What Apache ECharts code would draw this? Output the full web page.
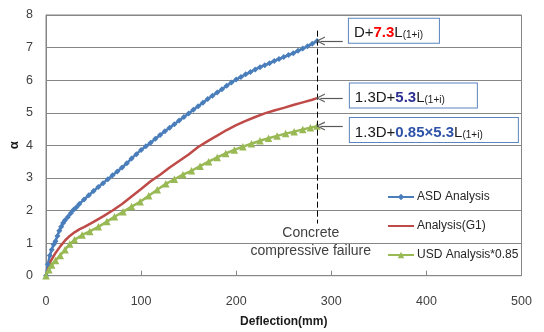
<!DOCTYPE html>
<html><head><meta charset="utf-8">
<script src="https://cdn.jsdelivr.net/npm/echarts@6/dist/echarts.min.js"></script>
<style>html,body{margin:0;padding:0;background:#fff}#c{width:544px;height:332px}</style>
</head><body><div id="c"></div>
<script>
// ---- data ----
const xTickValues = [0, 100, 200, 300, 400, 500];
const yTickValues = [0, 1, 2, 3, 4, 5, 6, 7, 8];

const asdX = [0,2,4,6,8,10,12,14,16,18,20,23,26,29,32,35,40,45,50,55,60,65,70,75,80,85,90,95,100,105,110,115,120,125,130,135,140,145,150,155,160,165,170,175,180,185,190,195,200,205,210,215,220,225,230,235,240,245,250,255,260,265,270,275,280,285];
const asdY = [0,0.35,0.62,0.8,0.96,1.06,1.22,1.38,1.5,1.62,1.7,1.8,1.92,2.02,2.1,2.2,2.34,2.47,2.6,2.72,2.84,2.96,3.08,3.2,3.32,3.45,3.6,3.73,3.86,3.97,4.08,4.2,4.32,4.43,4.54,4.65,4.76,4.87,4.98,5.09,5.2,5.31,5.42,5.52,5.62,5.72,5.83,5.93,6.02,6.1,6.18,6.25,6.33,6.4,6.46,6.52,6.59,6.65,6.71,6.77,6.83,6.9,6.97,7.04,7.12,7.2];

const g1X = [0,5,10,15,20,25,30,35,40,50,60,70,80,90,100,110,120,130,140,150,160,170,180,190,200,210,220,230,240,250,260,270,280,285];
const g1Y = [0,0.45,0.7,0.9,1.08,1.22,1.33,1.42,1.49,1.65,1.82,2.0,2.2,2.43,2.66,2.9,3.1,3.32,3.52,3.72,3.95,4.13,4.3,4.47,4.62,4.75,4.87,4.98,5.07,5.15,5.24,5.32,5.4,5.45];

const usdX = [0,3,6,10,15,20,25,30,38,46,55,64,72,81,90,99,108,117,126,135,144,153,162,171,180,189,198,207,216,225,234,243,252,261,270,278,285];
const usdY = [0,0.18,0.33,0.47,0.62,0.8,0.97,1.1,1.25,1.36,1.5,1.66,1.81,1.96,2.12,2.27,2.45,2.64,2.82,2.96,3.1,3.22,3.36,3.5,3.63,3.75,3.86,3.96,4.05,4.14,4.22,4.29,4.36,4.42,4.49,4.54,4.59];

const seriesNames = ['ASD Analysis', 'Analysis(G1)', 'USD Analysis*0.85'];
const failureX = 285;          // concrete compressive failure deflection
const failureSpan = [1.6, 7.52];
const endValues = [7.2, 5.45, 4.59];

const zip = (xs, ys) => xs.map((x, i) => [x, ys[i]]);
const FONT = 'Liberation Sans';
const chevron = 'path://M0,10 L5,0 L10,10 L8.6,10 L5,2.6 L1.4,10 Z';

function arrow(y) {
  return [
    {coord: [312, y], symbol: 'none'},
    {coord: [288.5, y], symbol: chevron, symbolSize: [9, 9]}
  ];
}
const boxLabel = (fmt, w) => ({
  show: true, position: 'right', distance: 0, formatter: fmt,
  width: w, padding: [3, 0, 2, 5], borderColor: '#5b84c0', borderWidth: 1,
  backgroundColor: '#fff', fontFamily: FONT,
  rich: {
    n: {fontSize: 15, color: '#1a1a1a', fontFamily: FONT, lineHeight: 19, verticalAlign: 'bottom'},
    r: {fontSize: 15, color: '#ff0000', fontWeight: 'bold', fontFamily: FONT, lineHeight: 19, verticalAlign: 'bottom'},
    b: {fontSize: 15, color: '#2e3192', fontWeight: 'bold', fontFamily: FONT, lineHeight: 19, verticalAlign: 'bottom'},
    c: {fontSize: 15, color: '#2f52a8', fontWeight: 'bold', fontFamily: FONT, lineHeight: 19, verticalAlign: 'bottom'},
    s: {fontSize: 10, color: '#1a1a1a', fontFamily: FONT, lineHeight: 8, verticalAlign: 'bottom'}
  }
});

const chart = echarts.init(document.getElementById('c'), null, {renderer: 'canvas'});
chart.setOption({
  animation: false,
  backgroundColor: '#fff',
  grid: {left: 46, right: 22.5, top: 15, bottom: 56.3, containLabel: false, outerBoundsMode: 'none',
         show: true, borderColor: '#868686', borderWidth: 1},
  xAxis: {
    type: 'value', min: xTickValues[0], max: xTickValues[xTickValues.length - 1], interval: 100,
    name: 'Deflection(mm)', nameLocation: 'middle', nameGap: 40, nameMoveOverlap: false,
    nameTextStyle: {fontFamily: FONT, fontSize: 12, fontWeight: 'bold', color: '#1a1a1a'},
    axisLine: {show: true, lineStyle: {color: '#868686'}},
    axisTick: {show: true, inside: true, length: 5, lineStyle: {color: '#868686'}},
    axisLabel: {fontFamily: FONT, fontSize: 12.5, color: '#404040', margin: 19},
    splitLine: {show: false}
  },
  yAxis: {
    type: 'value', min: yTickValues[0], max: yTickValues[yTickValues.length - 1], interval: 1,
    name: 'α', nameLocation: 'middle', nameGap: 25, nameRotate: 90, nameMoveOverlap: false,
    nameTextStyle: {fontFamily: FONT, fontSize: 13, fontWeight: 'bold', color: '#1a1a1a'},
    axisLine: {show: true, lineStyle: {color: '#868686'}},
    axisTick: {show: false},
    axisLabel: {fontFamily: FONT, fontSize: 12.5, color: '#404040', margin: 13},
    splitLine: {show: true, lineStyle: {color: '#868686', width: 1}}
  },
  legend: {
    orient: 'vertical', left: 382, top: 185, itemGap: 15, itemWidth: 26, itemHeight: 8,
    textStyle: {fontFamily: FONT, fontSize: 12, color: '#262626', padding: [0, 0, 0, -2], lineHeight: 14},
    data: [
      {name: seriesNames[0]},
      {name: seriesNames[1], itemStyle: {opacity: 0}},
      {name: seriesNames[2]}
    ]
  },
  series: [
    {
      name: seriesNames[0], type: 'line', data: zip(asdX, asdY),
      symbol: 'diamond', symbolSize: 6, color: '#4a7ebb',
      lineStyle: {width: 2.5, color: '#4a7ebb'}, itemStyle: {color: '#4a7ebb'}
    },
    {
      name: seriesNames[1], type: 'line', data: zip(g1X, g1Y),
      symbol: 'none', color: '#be4b48',
      lineStyle: {width: 2.5, color: '#be4b48'}
    },
    {
      name: seriesNames[2], type: 'line', data: zip(usdX, usdY),
      symbol: 'triangle', symbolSize: 7.5, color: '#98b954',
      lineStyle: {width: 2.5, color: '#98b954'}, itemStyle: {color: '#98b954'},
      markLine: {
        silent: true, animation: false, label: {show: false}, symbol: ['none', 'none'],
        lineStyle: {color: '#595959', width: 1.2, type: 'solid'},
        emphasis: {disabled: true},
        data: [
          [{coord: [failureX, failureSpan[1]], lineStyle: {color: '#000', width: 1, type: [6, 3]}}, {coord: [failureX, failureSpan[0]]}],
          arrow(endValues[0]), arrow(endValues[1]), arrow(endValues[2])
        ]
      },
      markPoint: {
        silent: true, animation: false,
        data: [
          {coord: [318, 7.52], symbol: 'rect', symbolSize: 1, itemStyle: {color: 'rgba(0,0,0,0)'},
           label: boxLabel('{n|D+}{r|7.3}{n|L}{s|(1+i)}', 85)},
          {coord: [319, 5.53], symbol: 'rect', symbolSize: 1, itemStyle: {color: 'rgba(0,0,0,0)'},
           label: boxLabel('{n|1.3D+}{b|5.3}{n|L}{s|(1+i)}', 122)},
          {coord: [319, 4.47], symbol: 'rect', symbolSize: 1, itemStyle: {color: 'rgba(0,0,0,0)'},
           label: boxLabel('{n|1.3D+}{c|0.85×5.3}{n|L}{s|(1+i)}', 163)},
          {coord: [278.4, 1.03], symbol: 'rect', symbolSize: 1, itemStyle: {color: 'rgba(0,0,0,0)'},
           label: {show: true, position: 'inside', formatter: 'Concrete\ncompressive failure',
                   align: 'center', verticalAlign: 'middle', lineHeight: 18, fontSize: 14,
                   fontFamily: FONT, color: '#404040'}}
        ]
      }
    }
  ]
});
</script></body></html>
